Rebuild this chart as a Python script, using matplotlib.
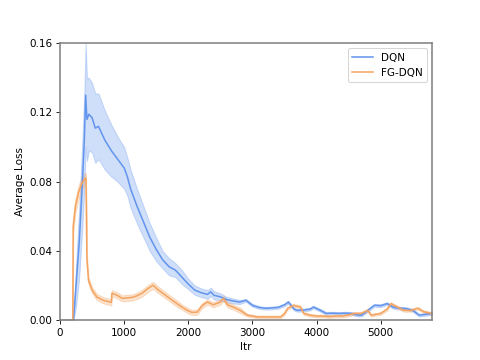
import numpy as np
import matplotlib
matplotlib.use('Agg')
import matplotlib.pyplot as plt

# DQN curve (mean and spread)
dqn_itr = [0, 200, 210, 250, 300, 350, 380, 400, 420, 450, 500, 550, 600, 700, 800,
           900, 1000, 1050, 1100, 1200, 1300, 1400, 1500, 1600, 1700, 1800, 1900,
           2000, 2100, 2200, 2300, 2350, 2400, 2500, 2600, 2700, 2800, 2900, 3000,
           3100, 3200, 3300, 3400, 3500, 3560, 3650, 3700, 3800, 3900, 3950, 4050,
           4150, 4250, 4350, 4450, 4550, 4650, 4700, 4800, 4900, 5000, 5100, 5200,
           5300, 5400, 5500, 5600, 5700, 5800]
dqn_mean = [0, 0, 0, 0.02, 0.045, 0.08, 0.105, 0.13, 0.116, 0.119, 0.117, 0.111, 0.112,
            0.104, 0.098, 0.093, 0.088, 0.083, 0.076, 0.066, 0.057, 0.048, 0.041,
            0.035, 0.031, 0.029, 0.025, 0.021, 0.0175, 0.016, 0.015, 0.0165, 0.0145,
            0.0136, 0.012, 0.0112, 0.0106, 0.0116, 0.0087, 0.0075, 0.007, 0.0072,
            0.0075, 0.009, 0.0106, 0.0065, 0.0058, 0.006, 0.0065, 0.0077, 0.006,
            0.004, 0.0042, 0.004, 0.0042, 0.004, 0.003, 0.003, 0.0058, 0.0087,
            0.0085, 0.0097, 0.0075, 0.007, 0.0068, 0.0058, 0.003, 0.0035, 0.004]
dqn_std = [0, 0, 0, 0.012, 0.02, 0.025, 0.028, 0.03, 0.024, 0.021, 0.02, 0.02, 0.019,
           0.017, 0.015, 0.013, 0.012, 0.011, 0.011, 0.01, 0.009, 0.008, 0.0068,
           0.005, 0.005, 0.004, 0.004, 0.003, 0.0027, 0.0025, 0.0025, 0.0024, 0.0024,
           0.002, 0.0016, 0.0014, 0.0012, 0.0008, 0.0008, 0.0008, 0.0008, 0.0008,
           0.0008, 0.0008, 0.0008, 0.0008, 0.0008, 0.0008, 0.0008, 0.0008, 0.0008,
           0.0008, 0.0008, 0.0008, 0.0008, 0.0008, 0.0008, 0.0008, 0.0008, 0.0008,
           0.0008, 0.0008, 0.0008, 0.0008, 0.0008, 0.0008, 0.0008, 0.0008, 0.0008]

# FG-DQN curve
fg_itr = [0, 200, 205, 240, 290, 340, 390, 405, 420, 445, 500, 575, 675, 780, 800, 810,
          890, 970, 1050, 1130, 1200, 1280, 1380, 1450, 1520, 1600, 1700, 1750, 1850,
          1900, 2000, 2060, 2140, 2220, 2300, 2390, 2500, 2550, 2610, 2700, 2810,
          2920, 3000, 3080, 3240, 3440, 3500, 3550, 3640, 3750, 3800, 3900, 4000,
          4100, 4200, 4300, 4400, 4480, 4580, 4690, 4800, 4850, 5000, 5100, 5160,
          5260, 5360, 5470, 5580, 5670, 5800]
fg_mean = [0, 0, 0.054, 0.066, 0.074, 0.079, 0.082, 0.082, 0.035, 0.023, 0.0175, 0.0135,
           0.0116, 0.0106, 0.0104, 0.0157, 0.0145, 0.0127, 0.013, 0.0133, 0.0142,
           0.0157, 0.0186, 0.0203, 0.018, 0.0157, 0.013, 0.0116, 0.009, 0.0077,
           0.0055, 0.0046, 0.0048, 0.0087, 0.0106, 0.009, 0.0106, 0.0127, 0.009,
           0.0077, 0.0058, 0.003, 0.0025, 0.002, 0.002, 0.002, 0.004, 0.007, 0.0087,
           0.0077, 0.004, 0.003, 0.0025, 0.0025, 0.0022, 0.0025, 0.0025, 0.003,
           0.004, 0.004, 0.0058, 0.003, 0.004, 0.0065, 0.0097, 0.0077, 0.0058,
           0.0058, 0.007, 0.005, 0.004]
fg_std = [0, 0, 0.004, 0.004, 0.004, 0.004, 0.003, 0.003, 0.003, 0.002, 0.0018, 0.0018,
          0.0018, 0.0018, 0.0018, 0.0018, 0.0018, 0.0018, 0.0018, 0.0018, 0.0018,
          0.002, 0.002, 0.002, 0.002, 0.0018, 0.0018, 0.0018, 0.0018, 0.0015, 0.0015,
          0.0015, 0.0015, 0.0015, 0.0015, 0.0015, 0.0015, 0.0015, 0.0015, 0.0015,
          0.0015, 0.0008, 0.0008, 0.0008, 0.0008, 0.0008, 0.0008, 0.0008, 0.0008,
          0.0008, 0.0008, 0.0008, 0.0008, 0.0008, 0.0008, 0.0008, 0.0008, 0.0008,
          0.0008, 0.0008, 0.0008, 0.0008, 0.0008, 0.0008, 0.0008, 0.0008, 0.0008,
          0.0008, 0.0008, 0.0008, 0.0008]

series = [('DQN', dqn_itr, dqn_mean, dqn_std, 'cornflowerblue'),
          ('FG-DQN', fg_itr, fg_mean, fg_std, 'sandybrown')]

fig, ax = plt.subplots(figsize=(6.4, 4.8), dpi=75)

for name, itr, mean, std, color in series:
    itr = np.array(itr)
    mean = np.array(mean)
    std = np.array(std)
    ax.plot(itr, mean, color=color, linewidth=1.5, label=name)
    ax.fill_between(itr, mean - std, mean + std, color=color, alpha=0.3)

ax.set_xlim(0, 5800)
ax.set_ylim(0, 0.16)
ax.set_yticks([0.0, 0.04, 0.08, 0.12, 0.16])
ax.set_xticks([0, 1000, 2000, 3000, 4000, 5000])
ax.set_xlabel('Itr')
ax.set_ylabel('Average Loss')
for sp in ax.spines.values():
    sp.set_color('grey')
    sp.set_linewidth(1.5)
ax.legend(loc='upper right')

plt.savefig('out.png')
